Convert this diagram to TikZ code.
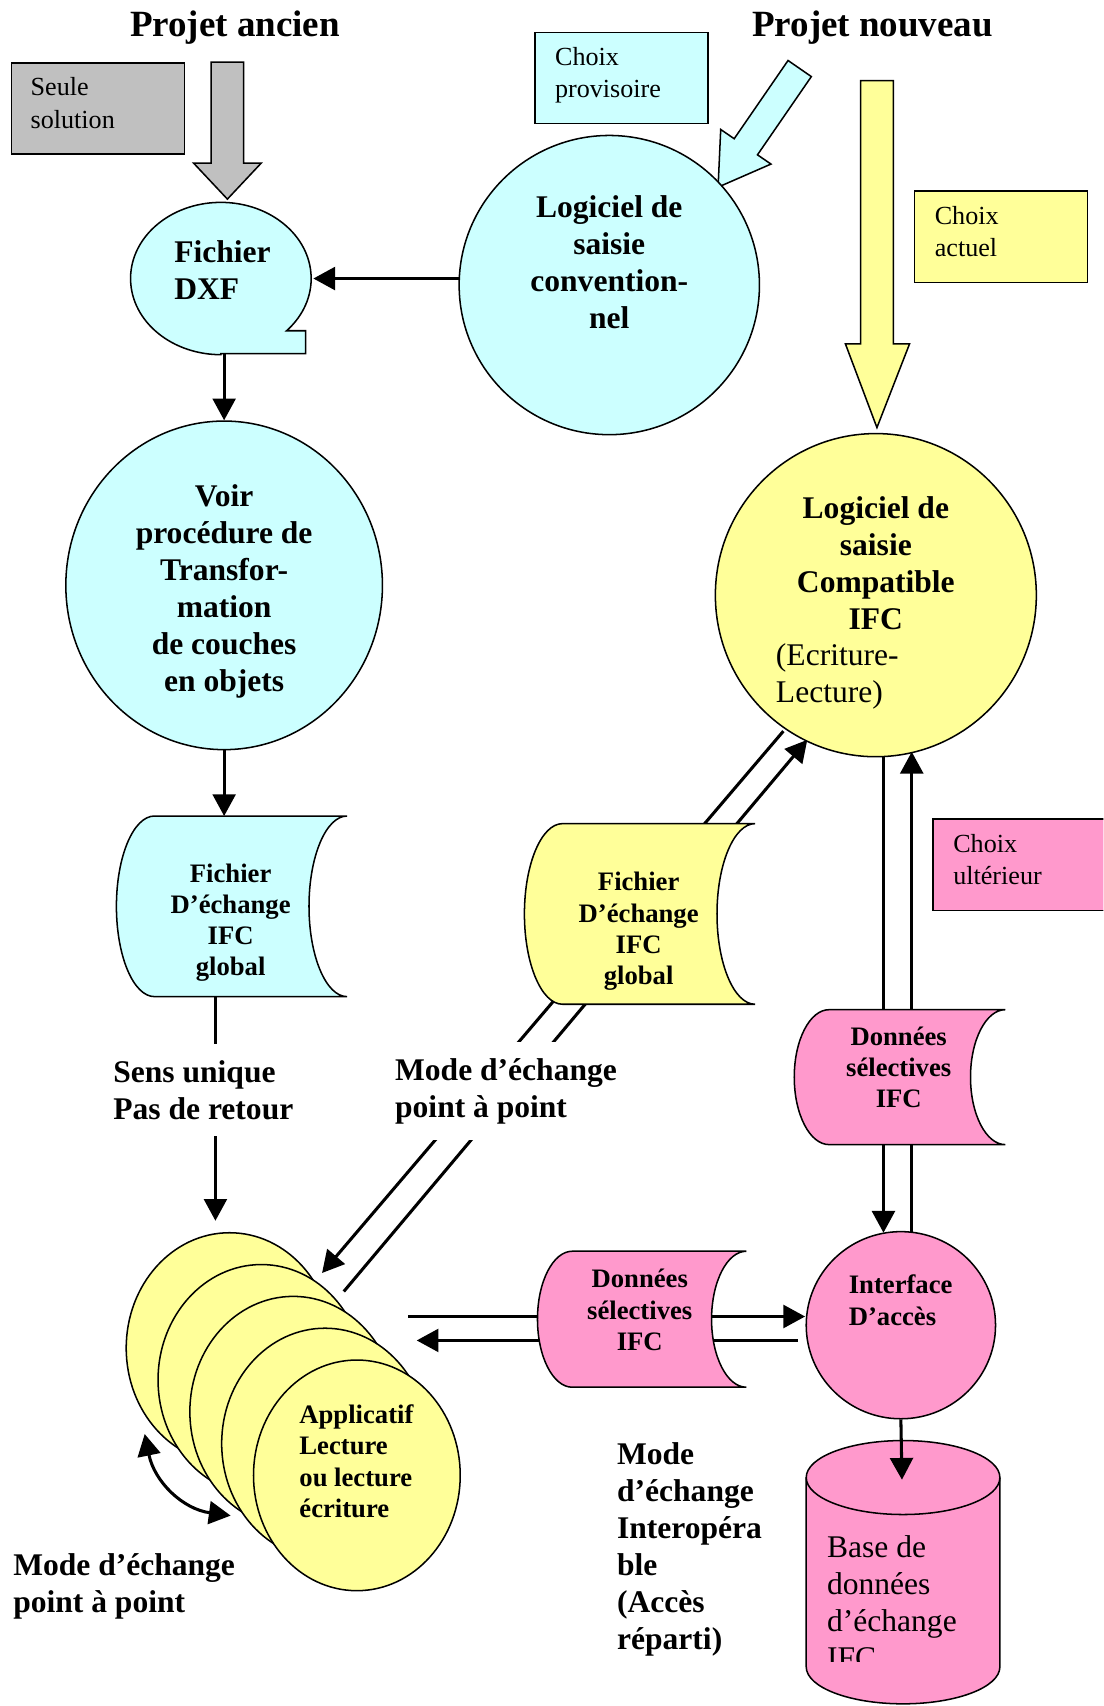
\documentclass[tikz,border=0pt]{standalone}
\usepackage{fontspec}
\setmainfont{Liberation Serif}
\usetikzlibrary{shapes.geometric,arrows.meta}
\definecolor{cyanfill}{HTML}{CCFFFF}
\definecolor{yellowfill}{HTML}{FFFF99}
\definecolor{pinkfill}{HTML}{FF99CC}
\definecolor{grayfill}{HTML}{C0C0C0}

% stored-data symbol: convex left side, concave right side
% #1 fill, #2 left x, #3 top y, #4 width, #5 height, #6 curve depth
\newcommand\docshape[6]{%
  \path[outline, fill=#1] ({#2+#6},#3) -- ({#2+#4},#3)
    arc[start angle=270, end angle=90, x radius=#6, y radius={#5/2}]
    -- ({#2+#6},{#3+#5})
    arc[start angle=90, end angle=270, x radius=#6, y radius={#5/2}] -- cycle;}

\tikzset{
  outline/.style={draw=black, line width=1.4pt},
  conn/.style={draw=black, line width=2.8pt, -{Triangle[length=20pt,width=21pt]}},
  bare/.style={draw=black, line width=2.8pt},
  txt/.style={inner sep=0pt},
  titlef/.style={txt, font=\fontsize{34}{40}\selectfont\bfseries},
  bigb/.style={txt, font=\fontsize{29}{34}\selectfont\bfseries},
  smallb/.style={txt, font=\fontsize{24.5}{28.7}\selectfont\bfseries},
  boxr/.style={txt, font=\fontsize{24}{30}\selectfont},
  bigr/.style={txt, font=\fontsize{29}{34}\selectfont},
  notebox/.style={outline, anchor=north west, inner sep=0pt, minimum width=159pt, minimum height=84pt},
  blob/.style={outline, ellipse, inner sep=0pt},
  cutlabel/.style={fill=white, inner xsep=4pt, inner ysep=15pt},
}

\begin{document}
\begin{tikzpicture}[x=1pt, y=-1pt]
\path[clip] (0,0) rectangle (1014,1568);
\fill[white] (0,0) rectangle (1014,1568);

% titles
\node[titlef] (titleOld) at (216,25) {Projet ancien};
\node[titlef] (titleNew) at (802,25) {Projet nouveau};

% choice notes
\node[notebox, fill=grayfill] (seuleBox) at (10,57) {};
\node[boxr, anchor=west, align=left] (seuleTxt) at (28,95) {Seule\\solution};
\node[notebox, fill=cyanfill] (provBox) at (491,29) {};
\node[boxr, anchor=west, align=left] (provTxt) at (510,69) {Choix\\provisoire};
\node[notebox, fill=yellowfill] (actBox) at (840,175) {};
\node[boxr, anchor=west, align=left] (actTxt) at (859,213) {Choix\\actuel};
\node[notebox, fill=pinkfill, minimum width=170pt] (ultBox) at (857,752) {};
\node[boxr, anchor=west, align=left] (ultTxt) at (876,790) {Choix\\ultérieur};

% block arrows
\path[outline, fill=grayfill] (194,57) -- (224,57) -- (224,150) -- (240,150)
  -- (209,183) -- (178,150) -- (194,150) -- cycle;
\path[outline, fill=yellowfill] (791,74) -- (821,74) -- (821,316) -- (836,316)
  -- (806,393) -- (777,316) -- (791,316) -- cycle;
\path[outline, fill=cyanfill] (745.7,70.4) -- (696.2,142.3) -- (708.6,150.8)
  -- (660,172) -- (662.4,119) -- (674.8,127.5) -- (724.3,55.6) -- cycle;

% conventional input software
\node[blob, fill=cyanfill, minimum width=276pt, minimum height=275pt] (conv) at (560,262) {};
\node[bigb, align=center] (convTxt) at (560,241) {Logiciel de\\saisie\\convention-\\nel};

% DXF file (tape symbol)
\path[outline, fill=cyanfill] (203,325) -- (281,325) -- (281,304) -- (263.4,304)
  arc[start angle=43.3, end angle=-270, x radius=83, y radius=70] -- cycle;
\node[bigb, anchor=west, align=left] (dxfTxt) at (160,248) {Fichier\\DXF};
\coordinate (dxfE) at (288,256);
\coordinate (convW) at (422,256);
\coordinate (dxfS) at (206,325);
\draw[conn] (convW) -- (dxfE);

% transformation procedure
\node[blob, fill=cyanfill, minimum width=291pt, minimum height=302pt] (voir) at (206,538) {};
\node[bigb, align=center] (voirTxt) at (206,544) {Voir\\procédure de\\Transfor-\\mation\\de couches\\en objets};
\draw[conn] (dxfS) -- (voir.north);

% global IFC file, old project
\docshape{cyanfill}{107}{750}{212}{166}{35}
\node[smallb, align=center] (ifcTxtL) at (212,848) {Fichier\\D’échange\\IFC\\global};
\coordinate (ldocN) at (206,750);
\coordinate (ldocS) at (198,916);
\draw[conn] (voir.south) -- (ldocN);

% application stack
\foreach \k in {0,...,4}{
  \node[blob, fill=yellowfill, minimum width=190pt, minimum height=212pt]
    (stack\k) at ({211+29.25*\k},{1239+29.25*\k}) {};
}
\node[smallb, anchor=west, align=left] (appTxt) at (275,1343) {Applicatif\\Lecture\\ou lecture\\écriture};
\coordinate (stackN) at (198,1122);
\draw[conn] (ldocS) -- (stackN);

% point-to-point exchange with the compatible software
\coordinate (ycA) at (720,672);
\coordinate (stackA) at (296,1170);
\coordinate (stackB) at (316,1187);
\coordinate (ycB) at (742,680);
\draw[conn] (ycA) -- (stackA);
\draw[conn] (stackB) -- (ycB);

% interoperable exchange lines
\coordinate (ycL) at (812,695);
\coordinate (ifL) at (812,1133);
\coordinate (ifR) at (838,1132);
\coordinate (ycR) at (838,691);
\draw[conn] (ycL) -- (ifL);
\draw[conn] (ifR) -- (ycR);
\coordinate (stackH1) at (375,1210);
\coordinate (ifW) at (740,1210);
\coordinate (ifW2) at (733,1232);
\coordinate (stackH2) at (383,1232);
\draw[conn] (stackH1) -- (ifW);
\draw[conn] (ifW2) -- (stackH2);

% global IFC file, new project
\docshape{yellowfill}{482}{757}{212}{166}{35}
\node[smallb, align=center] (ifcTxtY) at (587,856) {Fichier\\D’échange\\IFC\\global};

% IFC compatible software
\node[blob, fill=yellowfill, minimum width=295pt, minimum height=297pt] (ycirc) at (805,547) {};
\node[bigb, align=center] (ycircTxtB) at (805,518) {Logiciel de\\saisie\\Compatible\\IFC};
\node[bigr, anchor=west, align=left] (ycircTxtR) at (713,622) {(Ecriture-\\Lecture)};

% selective data
\docshape{pinkfill}{730}{928}{194}{124}{32}
\node[smallb, align=center] (selRTxt) at (826,981) {Données\\sélectives\\IFC};
\docshape{pinkfill}{494}{1150}{192}{125}{32}
\node[smallb, align=center] (selLTxt) at (588,1204) {Données\\sélectives\\IFC};

% access interface
\node[blob, fill=pinkfill, minimum width=174pt, minimum height=172pt] (interf) at (828,1218) {};
\node[smallb, anchor=west, align=left] (interfTxt) at (780,1195) {Interface\\D’accès};

% exchange database
\path[outline, fill=pinkfill] (741,1358) -- (741,1532)
  arc[start angle=180, end angle=0, x radius=89, y radius=34] -- (919,1358)
  arc[start angle=0, end angle=-180, x radius=89, y radius=34] -- cycle;
\draw[outline] (741,1358) arc[start angle=180, end angle=0, x radius=89, y radius=34];
\begin{scope}
  \clip (741,1395) rectangle (919,1527);
  \node[bigr, anchor=west, align=left] (baseTxt) at (760,1473) {Base de\\données\\d’échange\\IFC};
\end{scope}
\coordinate (cylTop) at (829,1360);
\draw[conn] (interf.south) -- (cylTop);

% labels over the connectors
\node[bigb, anchor=west, align=left, cutlabel] (sensTxt) at (100,1002) {Sens unique\\Pas de retour};
\node[bigb, anchor=west, align=left, cutlabel] (modeMid) at (359,1003) {Mode d’échange\\point à point};
\node[bigb, anchor=west, align=left] (modeLeft) at (12,1458) {Mode d’échange\\point à point};
\node[bigb, anchor=west, align=left] (modeInter) at (567,1424) {Mode\\d’échange\\Interopéra\\ble\\(Accès\\réparti)};

% round trip
\coordinate (cvA) at (133,1318);
\coordinate (cvB) at (212,1393);
\draw[bare, {Triangle[length=20pt,width=21pt]}-{Triangle[length=20pt,width=21pt]}]
  (cvA) .. controls (142,1362) and (168,1387) .. (cvB);
\end{tikzpicture}
\end{document}
